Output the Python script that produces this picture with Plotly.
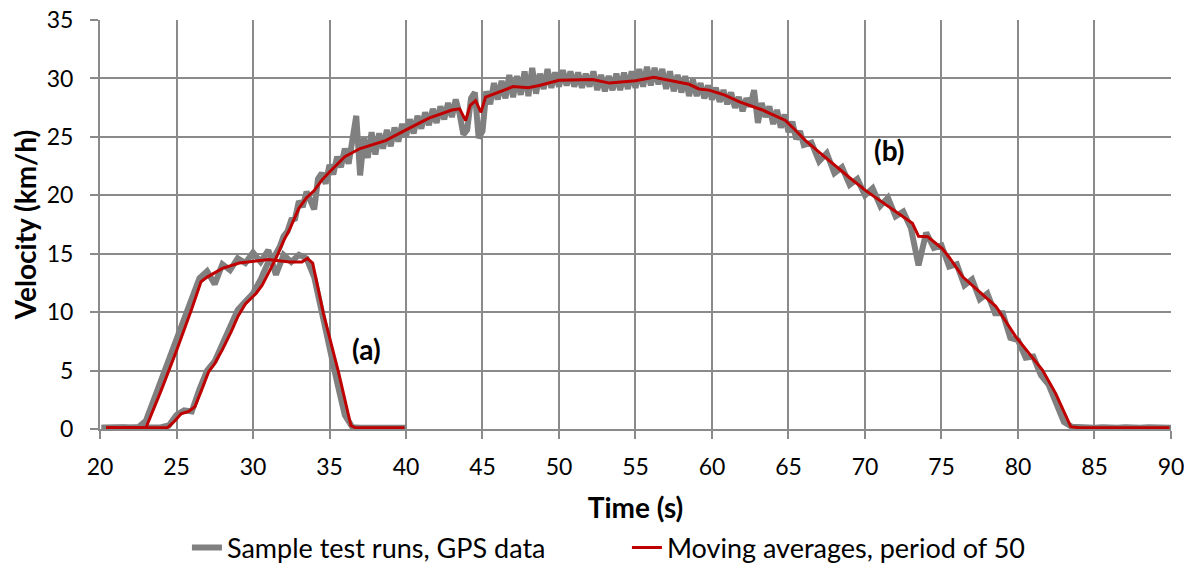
import plotly.graph_objects as go

# ---------------- data ----------------
# Run (a): GPS samples (time step 0.5 s after the first sample)
gps_a_v = [0.1,
           0.15, 0.1, 0.15, 0.1, 0.15, 0.7, 2.4, 4.3, 5.9,
           7.6, 9.2, 11.2, 12.9, 13.5, 12.4, 14.1, 13.6, 14.6, 14.2,
           15.1, 14.3, 15.3, 13.2, 14.9, 14.3, 14.9, 14.6, 13.0, 9.8,
           7.0, 4.0, 1.2, 0.15, 0.1, 0.15, 0.1, 0.1, 0.15, 0.1,
           0.1]
gps_a_t = [20.1] + [20.5 + 0.5 * i for i in range(len(gps_a_v) - 1)]

# Run (b): GPS samples, three stretches with different sampling
gps_b1_v = [0.1,
            0.1, 0.15, 0.1, 0.1, 0.15, 0.1, 0.1, 0.15, 0.3,
            1.2, 1.6, 1.5, 3.4, 5.0, 5.8, 7.3, 8.7, 10.2, 10.9,
            11.6, 12.8, 14.3, 15.0]
gps_b1_t = [20.1] + [20.5 + 0.5 * i for i in range(len(gps_b1_v) - 1)]

gps_b2_v = [15.6,
            16.5, 16.9, 17.9, 18.0,
            19.5, 19.0, 20.3, 19.6,
            18.8, 21.4, 21.9, 21.0,
            22.6, 21.8, 23.3, 22.4,
            24.0, 22.7, 24.5, 26.8,
            21.7, 24.9, 23.2, 25.4,
            23.5, 25.3, 24.0, 25.6,
            24.2, 25.8, 24.6, 26.1,
            25.0, 26.5, 25.3, 26.8,
            25.7, 27.1, 26.0, 27.4,
            26.2, 27.6, 26.5, 27.9,
            26.7, 28.2, 27.0, 25.2,
            25.6, 28.3, 28.8, 24.9,
            25.5, 28.9, 27.8, 29.6,
            28.2, 29.8, 28.3, 30.3,
            28.4, 30.2, 28.6, 30.6,
            28.5, 30.9, 28.7, 30.4,
            29.1, 30.8, 29.2, 30.5,
            29.3, 30.7, 29.4, 30.6,
            29.3, 30.5, 29.2, 30.4,
            29.3, 30.6, 29.0, 30.3,
            28.9, 30.2, 29.0, 30.4,
            29.0, 30.5, 29.1, 30.6,
            29.2, 30.8, 29.3, 31.0,
            29.4, 30.9, 29.5, 30.8,
            29.1, 30.6, 28.9, 30.3,
            28.8, 30.2, 28.5, 29.9,
            28.5, 29.6, 28.3, 29.4,
            28.2, 29.2, 28.0, 29.0,
            27.8, 28.8, 27.5, 28.4,
            27.2, 28.3, 27.6, 29.0,
            26.2, 27.9, 26.7, 27.6,
            26.1, 27.3, 25.8, 26.9,
            25.4, 26.3, 24.8, 25.5,
            24.3]
gps_b2_t = [31.75 + 0.25 * i for i in range(len(gps_b2_v))]

gps_b3_v = [24.5, 22.9, 23.6, 21.9, 22.4, 20.9, 21.4, 20.0, 20.6, 19.1,
            19.8, 18.2, 18.6, 17.2, 14.0, 16.8, 15.5, 15.7, 13.9, 14.1,
            12.3, 12.8, 11.1, 11.6, 9.9, 9.9, 7.8, 7.6, 6.1, 6.2,
            4.6, 3.8, 2.2, 0.6, 0.2, 0.15, 0.1, 0.1, 0.15, 0.1,
            0.1, 0.15, 0.1, 0.1, 0.15, 0.1, 0.1, 0.1]
gps_b3_t = [66.5 + 0.5 * i for i in range(len(gps_b3_v))]

gps_b_t = gps_b1_t + gps_b2_t + gps_b3_t
gps_b_v = gps_b1_v + gps_b2_v + gps_b3_v

# Moving averages (period of 50)
ma_a_t = [20.4, 23.0, 24.0, 25.0, 26.0, 26.6, 27.0, 28.0, 29.1, 30.2, 31.0,
          32.4, 33.2, 33.55, 33.9, 34.6, 35.6, 36.4, 36.7, 39.9]
ma_a_v = [0.1, 0.1, 3.3, 6.7, 10.3, 12.6, 13.0, 13.75, 14.2, 14.4, 14.5,
          14.3, 14.3, 14.6, 14.2, 9.9, 4.8, 0.3, 0.1, 0.1]

ma_b_t = [20.4, 24.4, 24.9, 25.3, 25.8, 26.2, 26.6, 27.1, 27.5, 28.0, 28.6,
          29.0, 29.5, 30.2, 30.6, 31.0, 31.5, 32.0, 32.4, 33.0, 33.5, 34.0,
          34.5, 35.0, 36.0, 37.0, 38.0, 38.7, 40.0, 41.5, 43.0, 43.5, 43.9,
          44.2, 44.55, 44.9, 45.2, 46.0, 47.0, 48.0, 48.7, 50.0, 51.0, 52.2,
          53.3, 54.4, 55.0, 56.2, 57.0, 57.6, 58.5, 59.15, 59.8, 60.8, 61.8,
          63.3, 64.8, 65.5, 66.1, 67.0, 67.9, 69.0, 70.05, 71.6, 73.1, 73.5,
          74.1, 75.05, 75.5, 76.4, 77.7, 78.55, 79.85, 81.6, 82.46, 83.0,
          83.45, 84.0, 89.9]
ma_b_v = [0.1, 0.1, 0.7, 1.3, 1.5, 1.9, 3.2, 4.9, 5.6, 6.8, 8.4,
          9.6, 10.7, 11.6, 12.3, 13.3, 14.6, 16.1, 17.1, 18.9, 19.8, 20.4,
          21.3, 22.0, 23.3, 24.0, 24.4, 24.7, 25.6, 26.6, 27.3, 27.4, 26.4,
          27.7, 28.1, 27.1, 28.4, 28.8, 29.3, 29.2, 29.4, 29.85, 29.9, 29.9,
          29.6, 29.7, 29.8, 30.1, 29.9, 29.7, 29.5, 29.1, 29.0, 28.6, 28.0,
          27.3, 26.4, 25.5, 24.7, 23.7, 22.7, 21.5, 20.4, 19.0, 17.6, 16.5,
          16.45, 15.45, 14.7, 13.0, 11.5, 10.5, 7.9, 5.05, 3.05, 1.5,
          0.2, 0.1, 0.1]

x_ticks = [20, 25, 30, 35, 40, 45, 50, 55, 60, 65, 70, 75, 80, 85, 90]
y_ticks = [0, 5, 10, 15, 20, 25, 30, 35]

labels = [("(a)", 37.45, 6.85), ("(b)", 71.55, 23.9)]

# ---------------- figure ----------------
GRAY = "#808080"
RED = "#C00000"
GRID = "#8a8a8a"
FONT = "Lato, Carlito, Calibri, sans-serif"

fig = go.Figure()
fig.add_trace(go.Scatter(x=gps_a_t, y=gps_a_v, mode="lines",
                         line=dict(color=GRAY, width=6),
                         name="Sample test runs, GPS data",
                         legendgroup="gps", showlegend=True))
fig.add_trace(go.Scatter(x=gps_b_t, y=gps_b_v, mode="lines",
                         line=dict(color=GRAY, width=6),
                         name="Sample test runs, GPS data",
                         legendgroup="gps", showlegend=False))
fig.add_trace(go.Scatter(x=ma_a_t, y=ma_a_v, mode="lines",
                         line=dict(color=RED, width=3),
                         name="Moving averages, period of 50",
                         legendgroup="ma", showlegend=True))
fig.add_trace(go.Scatter(x=ma_b_t, y=ma_b_v, mode="lines",
                         line=dict(color=RED, width=3),
                         name="Moving averages, period of 50",
                         legendgroup="ma", showlegend=False))

for txt, lx, ly in labels:
    fig.add_annotation(x=lx, y=ly, text="<b>%s</b>" % txt, showarrow=False,
                       font=dict(family=FONT, size=28, color="black"))

# the page body keeps an 8 px default margin, so the figure is 8 px smaller
fig.update_layout(
    width=1184, height=558,
    margin=dict(l=92, r=21, t=12, b=137, autoexpand=False),
    paper_bgcolor="white", plot_bgcolor="white",
    font=dict(family=FONT, size=23, color="black"),
    legend=dict(orientation="h", x=0.492, xanchor="center",
                y=-0.291, yanchor="middle",
                entrywidth=395, entrywidthmode="pixels",
                font=dict(family=FONT, size=27, color="black"),
                tracegroupgap=0),
    showlegend=True,
)
fig.update_xaxes(range=[20, 90.001], tickvals=x_ticks, automargin=False,
                 showgrid=True, gridcolor=GRID, gridwidth=2,
                 showline=True, linecolor=GRID, linewidth=2,
                 zeroline=False, ticklabeloverflow="allow",
                 ticks="outside", ticklen=8, tickwidth=2, tickcolor=GRID,
                 ticklabelstandoff=8,
                 tickfont=dict(family=FONT, size=23, color="black"),
                 title=dict(text="<b>Time (s)</b>", standoff=20,
                            font=dict(family=FONT, size=28, color="black")))
fig.update_yaxes(range=[0, 35.001], tickvals=y_ticks, automargin=False,
                 showgrid=True, gridcolor=GRID, gridwidth=2,
                 showline=True, linecolor=GRID, linewidth=2,
                 zeroline=False, ticklabeloverflow="allow",
                 ticks="outside", ticklen=8, tickwidth=2, tickcolor=GRID,
                 ticklabelstandoff=12,
                 tickfont=dict(family=FONT, size=23, color="black"),
                 title=dict(text="<b>Velocity (km/h)</b>", standoff=8,
                            font=dict(family=FONT, size=28, color="black")))

fig.write_html("out.html")
